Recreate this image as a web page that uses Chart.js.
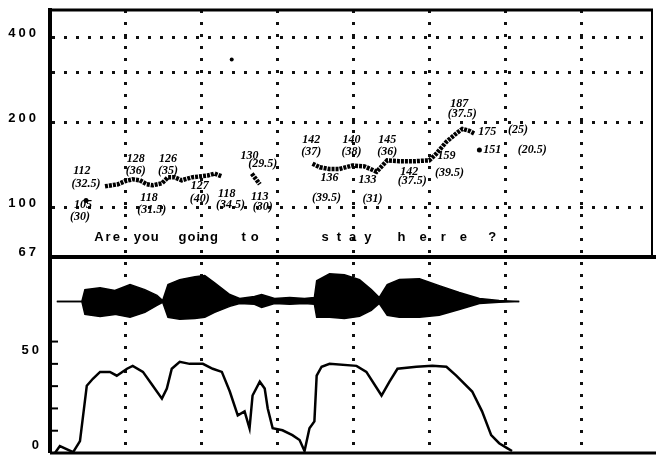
<!DOCTYPE html>
<html>
<head>
<meta charset="utf-8">
<script src="https://cdn.jsdelivr.net/npm/chart.js@4.4.1/dist/chart.umd.min.js"></script>
<style>
  html, body { margin: 0; padding: 0; background: #fff; }
</style>
</head>
<body>
<canvas id="chart" width="656" height="457"></canvas>
<script>
// time axis in seconds, one dotted division = 0.2 s
const timeGrid = [0.2, 0.4, 0.6, 0.8, 1.0, 1.2, 1.4];
const timeMax = 1.587;

// F0 trace (Hz), null marks an unvoiced gap
const pitchTime = [0.145, 0.179, 0.197, 0.218, 0.237, 0.255, 0.271, 0.295, 0.311, 0.329, 0.347, 0.374, 0.416, 0.434, 0.453,
  null, 0.532, 0.553,
  null, 0.692, 0.711, 0.737, 0.763, 0.797, 0.829, 0.861, 0.889, 0.921, 0.961, 1.0, 1.018, 1.045, 1.071, 1.087, 1.105, 1.118];
const pitchHz = [119, 121, 124, 126, 125, 121, 120, 122, 128, 128, 125, 128, 130, 132, 129,
  null, 132, 121,
  null, 143, 139, 137, 137, 141, 140, 134, 147, 146, 146, 147, 155, 171, 183, 190, 187, 183];

// isolated F0 points
const dotTime = [0.095, 1.132];
const dotHz = [106, 160];
const speckTime = [0.479];
const speckHz = [334];

const freqTicks = [67, 100, 200, 300, 400];
const freqLabels = ['67', '100', '200', '', '400'];

// intensity (dB)
const levelMarks = [10, 20, 30, 40, 50];
const levelLabels = ['0', '50'];
const levelLabelValues = [0, 50];

const intensityTime = [0.013, 0.026, 0.061, 0.079, 0.097, 0.113, 0.132, 0.158, 0.176, 0.203, 0.218, 0.245, 0.271, 0.295, 0.308,
  0.321, 0.342, 0.368, 0.403, 0.429, 0.453, 0.474, 0.495, 0.513, 0.526, 0.534, 0.553, 0.566, 0.574, 0.587, 0.613, 0.639,
  0.658, 0.671, 0.684, 0.697, 0.703, 0.716, 0.737, 0.808, 0.834, 0.874, 0.895, 0.916, 0.966, 1.008, 1.045, 1.071, 1.113,
  1.139, 1.163, 1.184, 1.205, 1.218];
const intensityDb = [0, 3.1, 0.4, 5.3, 30.2, 33.3, 36.4, 36.4, 34.7, 37.8, 39.1, 36.4, 30.2, 24.4, 28.9,
  37.8, 40.9, 40, 40, 37.8, 36.4, 27.6, 16.9, 18.7, 11.1, 25.8, 32, 28.9, 20, 11.1, 10.2, 8,
  5.8, 0.9, 11.1, 14.2, 34.7, 38.7, 40, 39.1, 36.4, 25.8, 32, 37.8, 38.7, 39.1, 38.7, 34.7, 27.6,
  18.7, 8, 4.4, 2.2, 0.9];

// speech waveform envelope, drawn on the same lower scale
const waveTime = [0.018, 0.084, 0.092, 0.132, 0.171, 0.211, 0.25, 0.282, 0.297, 0.311, 0.342, 0.382, 0.408, 0.434, 0.474,
  0.5, 0.539, 0.558, 0.592, 0.632, 0.671, 0.697, 0.703, 0.737, 0.776, 0.816, 0.847, 0.868, 0.889, 0.921, 0.974, 1.026,
  1.079, 1.132, 1.184, 1.237];
const waveUpper = [68, 68, 73.3, 74.2, 72.9, 75.6, 73.3, 70.7, 68.4, 75.6, 77.8, 79.1, 79.6, 76.4, 71.1,
  69.3, 70.2, 71.1, 69.3, 69.8, 69.3, 69.8, 77.3, 80.4, 80, 77.8, 73.3, 69.8, 75.6, 77.8, 78.2, 75.1,
  72, 69.3, 68.4, 68];
const waveLower = [68, 68, 62.2, 61.3, 62.2, 60.9, 63.1, 66.2, 67.6, 60.9, 60, 60.4, 60.9, 63.1, 65.8,
  67.1, 66.7, 65.3, 67.1, 66.7, 67.1, 66.7, 60.9, 60.9, 60.4, 61.3, 64, 67.1, 61.8, 60.9, 60.9, 61.8,
  64.4, 67.1, 67.6, 68];

// handwritten readings: Hz and (level)
const noteText = ['112', '(32.5)', '105', '(30)', '128', '(36)', '126', '(35)', '118', '(31.5)', '127', '(40)',
  '118', '(34.5)', '130', '(29.5)', '113', '(30)', '142', '(37)', '140', '(38)', '145', '(36)', '136', '(39.5)',
  '133', '(31)', '142', '(37.5)', '159', '(39.5)', '187', '(37.5)', '175', '(25)', '151', '(20.5)'];
const noteTime = [0.084, 0.095, 0.087, 0.079, 0.226, 0.226, 0.311, 0.311, 0.261, 0.268, 0.395, 0.395,
  0.466, 0.476, 0.526, 0.561, 0.553, 0.561, 0.689, 0.689, 0.795, 0.795, 0.889, 0.889, 0.737, 0.729,
  0.837, 0.850, 0.947, 0.955, 1.045, 1.053, 1.079, 1.087, 1.153, 1.234, 1.166, 1.271];
const noteHz = [135, 121, 102, 93, 149, 135, 149, 135, 108, 98, 119, 107,
  112, 102, 153, 143, 109, 101, 173, 158, 173, 157, 173, 157, 127, 108,
  125, 107, 134, 124, 153, 133, 232, 215, 186, 189, 160, 160];

const sentenceWords = ['Are', 'you', 'going', 'to', 'stay', 'here', '?'];
const sentenceTime = [0.153, 0.255, 0.392, 0.534, 0.792, 1.026, 1.166];
const sentenceHz = 76;
const wordSpacing = [2, 1, 1, 5, 8, 14, 0];

const xy = (ts, vs) => ts.map((t, i) => ({ x: t, y: vs[i] }));

const panelArt = {
    id: 'panelArt',
    beforeDraw(chart) {
        chart.ctx.letterSpacing = '3px';
    },
    afterDatasetsDraw(chart) {
        const { ctx, chartArea, scales } = chart;
        const x = scales.x, freq = scales.freq, level = scales.level;
        ctx.save();
        ctx.fillStyle = '#000';
        ctx.strokeStyle = '#000';

        // readings written on the trace
        ctx.letterSpacing = '0px';
        ctx.font = 'italic bold 12px "Liberation Serif"';
        ctx.textAlign = 'center';
        ctx.textBaseline = 'middle';
        noteText.forEach((s, i) => {
            ctx.fillText(s, x.getPixelForValue(noteTime[i]), freq.getPixelForValue(noteHz[i]));
        });

        // the utterance
        ctx.font = 'bold 13px "Liberation Sans"';
        ctx.textBaseline = 'alphabetic';
        sentenceWords.forEach((w, i) => {
            ctx.letterSpacing = wordSpacing[i] + 'px';
            ctx.fillText(w, x.getPixelForValue(sentenceTime[i]), freq.getPixelForValue(sentenceHz));
        });

        // intensity ticks inside the frame
        ctx.lineWidth = 2;
        levelMarks.forEach(v => {
            const py = level.getPixelForValue(v);
            ctx.beginPath();
            ctx.moveTo(chartArea.left, py);
            ctx.lineTo(chartArea.left + 8, py);
            ctx.stroke();
        });
        ctx.letterSpacing = '3px';
        ctx.font = 'bold 13px "Liberation Sans"';
        ctx.textAlign = 'right';
        levelLabels.forEach((s, i) => {
            const v = levelLabelValues[i];
            ctx.textBaseline = v === 0 ? 'bottom' : 'top';
            ctx.fillText(s, chartArea.left - 8, level.getPixelForValue(v) + (v === 0 ? -1 : 2));
        });

        // frame
        const split = freq.bottom;
        ctx.lineWidth = 3;
        ctx.beginPath();
        ctx.moveTo(chartArea.left - 2, chartArea.top);
        ctx.lineTo(chartArea.right + 1, chartArea.top);
        ctx.stroke();
        ctx.lineWidth = 2;
        ctx.beginPath();
        ctx.moveTo(chartArea.right, chartArea.top);
        ctx.lineTo(chartArea.right, split);
        ctx.stroke();
        ctx.lineWidth = 4;
        ctx.beginPath();
        ctx.moveTo(chartArea.left, split);
        ctx.lineTo(chart.width, split);
        ctx.stroke();
        ctx.lineWidth = 3;
        ctx.beginPath();
        ctx.moveTo(chartArea.left, chartArea.bottom);
        ctx.lineTo(chart.width, chartArea.bottom);
        ctx.stroke();
        ctx.restore();
    }
};

const dotted = { color: '#111', lineWidth: 3 };
const fixLeftAxis = s => { s.width = 50; s.paddingTop = 0; s.paddingBottom = 0; };

new Chart(document.getElementById('chart').getContext('2d'), {
    type: 'line',
    data: {
        datasets: [
            {
                data: xy(waveTime, waveUpper), yAxisID: 'level',
                borderColor: '#000', borderWidth: 1.5, backgroundColor: '#000',
                fill: '+1', pointRadius: 0
            },
            {
                data: xy(waveTime, waveLower), yAxisID: 'level',
                borderColor: '#000', borderWidth: 1.5, fill: false, pointRadius: 0
            },
            {
                data: xy(intensityTime, intensityDb), yAxisID: 'level',
                borderColor: '#000', borderWidth: 2.5, fill: false, pointRadius: 0
            },
            {
                data: xy(pitchTime, pitchHz), yAxisID: 'freq',
                borderColor: '#000', borderWidth: 4.5, borderDash: [3, 1],
                fill: false, pointRadius: 0, spanGaps: false
            },
            {
                data: xy(dotTime, dotHz), yAxisID: 'freq', showLine: false,
                pointRadius: 2.5, pointBackgroundColor: '#000', pointBorderWidth: 0
            },
            {
                data: xy(speckTime, speckHz), yAxisID: 'freq', showLine: false,
                pointRadius: 2, pointBackgroundColor: '#000', pointBorderWidth: 0
            }
        ]
    },
    options: {
        responsive: false,
        animation: false,
        events: [],
        layout: { padding: { top: 10, right: 3, bottom: 2, left: 0 } },
        plugins: { legend: { display: false }, tooltip: { enabled: false } },
        scales: {
            x: {
                type: 'linear', min: 0, max: timeMax,
                afterBuildTicks: s => { s.ticks = timeGrid.map(v => ({ value: v })); },
                afterFit: s => { s.height = 0; s.paddingLeft = 0; s.paddingRight = 0; },
                ticks: { display: false },
                grid: { ...dotted, drawTicks: false },
                border: { display: false, dash: [3, 9] }
            },
            level: {
                type: 'linear', position: 'left', stack: 'panels', stackWeight: 197,
                min: 0, max: 88,
                afterFit: fixLeftAxis,
                ticks: { display: false },
                grid: { display: false, drawTicks: false },
                border: { display: true, width: 4, color: '#000' }
            },
            freq: {
                type: 'logarithmic', position: 'left', stack: 'panels', stackWeight: 248,
                min: 67, max: 500,
                afterBuildTicks: s => { s.ticks = freqTicks.map(v => ({ value: v })); },
                afterFit: fixLeftAxis,
                ticks: {
                    autoSkip: false, padding: 11, labelOffset: -4, color: '#000',
                    font: { family: 'Liberation Sans', weight: 'bold', size: 13 },
                    callback: (v) => freqLabels[freqTicks.indexOf(v)]
                },
                grid: {
                    lineWidth: 3, drawTicks: false,
                    color: c => (c.tick && c.tick.value === 67) ? 'rgba(0,0,0,0)' : '#111'
                },
                border: { display: true, width: 4, color: '#000', dash: [3, 9] }
            }
        }
    },
    plugins: [panelArt]
});
</script>
</body>
</html>
